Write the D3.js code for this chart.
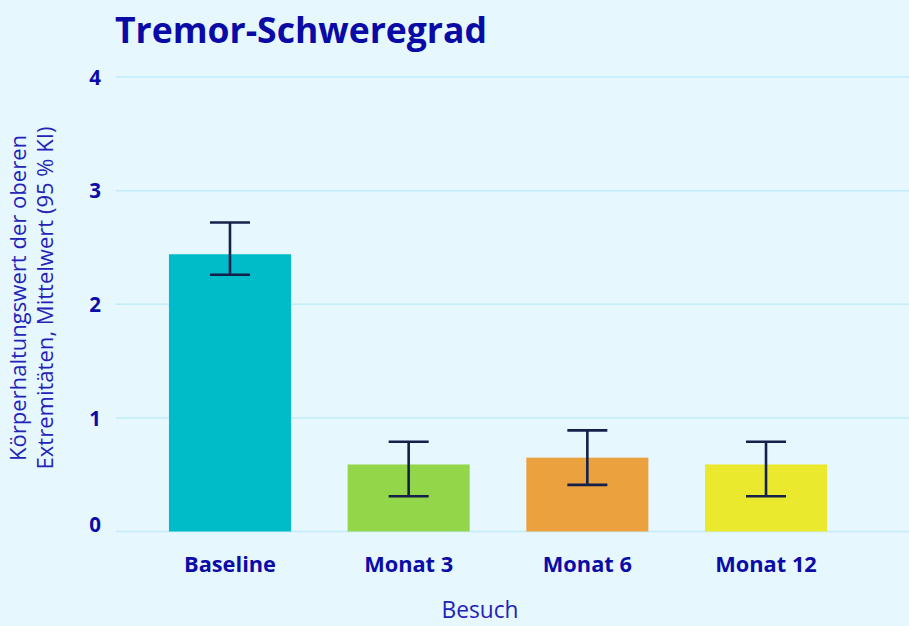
<!DOCTYPE html>
<html>
<head>
<meta charset="utf-8">
<script src="https://cdn.jsdelivr.net/npm/d3@7"></script>
<style>
  html, body { margin: 0; padding: 0; background: #e6f7fe; }
  svg { display: block; }
  text { font-family: "Open Sans", Lato, sans-serif; }
</style>
</head>
<body>
<svg id="chart" width="909" height="626"></svg>
<script>
const categories = ["Baseline", "Monat 3", "Monat 6", "Monat 12"];
const means = [2.44, 0.59, 0.65, 0.59];
const ciLow = [2.26, 0.31, 0.41, 0.31];
const ciHigh = [2.72, 0.79, 0.89, 0.79];
const yTicks = [0, 1, 2, 3, 4];
const barColors = ["#00bcc8", "#94d64a", "#eca13f", "#ebe92e"];

const W = 909, H = 626;
const svg = d3.select("#chart");
svg.append("rect").attr("width", W).attr("height", H).attr("fill", "#e6f7fe");

function fit(sel, target) {
  const n = sel.node();
  const fs = parseFloat(sel.attr("font-size"));
  const w = n.getComputedTextLength();
  sel.attr("font-size", (fs * target / w).toFixed(2));
}

const x = d3.scaleBand().domain(categories).range([115, 881])
  .paddingInner(0.317).paddingOuter(0.302);
const y = d3.scaleLinear().domain([0, 4]).range([531.5, 77]);

// gridlines
svg.append("g").selectAll("line").data(yTicks).join("line")
  .attr("x1", 116).attr("x2", W)
  .attr("y1", d => y(d)).attr("y2", d => y(d))
  .attr("stroke", "#c2ecf9").attr("stroke-width", 1.5);

// y axis
const yAxis = svg.append("g").attr("transform", "translate(101,0)")
  .call(d3.axisLeft(y).tickValues(yTicks).tickFormat(d3.format("d")).tickSize(0).tickPadding(0));
yAxis.select(".domain").remove();
yAxis.selectAll("text")
  .attr("fill", "#0b0ba8").attr("font-size", 20.5).attr("font-weight", 700)
  .attr("dy", d => d === 0 ? "0" : "0.35em")
  .style("font-family", "'Open Sans', sans-serif");

// bars
svg.append("g").selectAll("rect").data(categories).join("rect")
  .attr("x", d => x(d)).attr("width", x.bandwidth())
  .attr("y", (d, i) => y(means[i])).attr("height", (d, i) => y(0) - y(means[i]))
  .attr("fill", (d, i) => barColors[i]);

// error bars
const eb = svg.append("g").attr("stroke", "#13214a").attr("stroke-width", 2.6).attr("fill", "none");
const capW = 40;
categories.forEach((c, i) => {
  const cx = x(c) + x.bandwidth() / 2;
  eb.append("line").attr("x1", cx).attr("x2", cx).attr("y1", y(ciLow[i])).attr("y2", y(ciHigh[i]));
  eb.append("line").attr("x1", cx - capW / 2).attr("x2", cx + capW / 2).attr("y1", y(ciHigh[i])).attr("y2", y(ciHigh[i]));
  eb.append("line").attr("x1", cx - capW / 2).attr("x2", cx + capW / 2).attr("y1", y(ciLow[i])).attr("y2", y(ciLow[i]));
});

// x axis
const xAxis = svg.append("g").attr("transform", "translate(0,572)")
  .call(d3.axisBottom(x).tickSize(0).tickPadding(0));
xAxis.select(".domain").remove();
xAxis.selectAll("text")
  .attr("fill", "#0b0ba8").attr("font-size", 19).attr("font-weight", 700)
  .attr("dy", "0")
  .style("font-family", "'Open Sans', sans-serif");
fit(xAxis.select(".tick text"), 92);
const xfs = xAxis.select(".tick text").attr("font-size");
xAxis.selectAll("text").attr("font-size", xfs);

// axis titles
const bt = svg.append("text").attr("x", 480).attr("y", 618).attr("text-anchor", "middle")
  .attr("fill", "#2323b8").attr("font-size", 20).text("Besuch");
fit(bt, 77);

const yt = svg.append("text").attr("transform", "translate(0,298) rotate(-90)")
  .attr("text-anchor", "middle").attr("fill", "#2323b8").attr("font-size", 19);
const l1 = yt.append("tspan").attr("x", 0).attr("y", 26).text("Körperhaltungswert der oberen");
const l2 = yt.append("tspan").attr("x", 0).attr("y", 53).text("Extremitäten, Mittelwert (95 % KI)");
{
  const w = l2.node().getComputedTextLength();
  yt.attr("font-size", (19 * 343 / w).toFixed(2));
}

// title
const tt = svg.append("text").attr("x", 115).attr("y", 43)
  .attr("fill", "#0a0aa6").attr("font-size", 32).attr("font-weight", 700)
  .text("Tremor-Schweregrad");
fit(tt, 372);
</script>
</body>
</html>
